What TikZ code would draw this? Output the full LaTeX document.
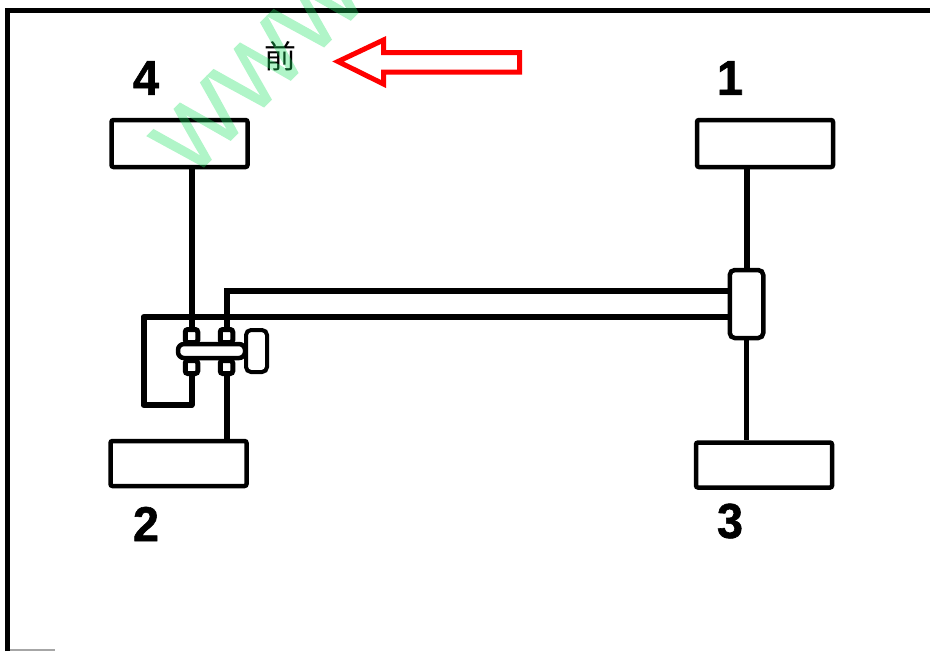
\documentclass[tikz,border=0pt]{standalone}
\usepackage{fontspec}
\setmainfont{Liberation Sans}
\newfontfamily\cjkfont{Noto Sans CJK SC}
\newfontfamily\wheelfont[UprightFont=* Bold, FakeBold=1.2, FakeStretch=.95]{Liberation Sans}
\newfontfamily\markfont[FakeBold=1.5]{Liberation Sans}
\definecolor{markgreen}{RGB}{29,226,98}
\definecolor{arrowred}{RGB}{255,0,0}
\tikzset{
	wheelbox/.style = {draw, line width = .045cm, rounded corners = .2mm, minimum width = 1.36cm, minimum height = .47cm, inner sep = 0pt},
	fitting/.style = {draw, line width = .05cm, rounded corners = .25mm, minimum width = .125cm, minimum height = .13cm, inner sep = 0pt},
	pipe/.style = {line width = .06cm},
	wheelno/.style = {font = \fontsize{14}{17}\selectfont\wheelfont, inner sep = 0pt}
}

\begin{document}
\begin{tikzpicture}
	\useasboundingbox (0,0) rectangle (9.3,6.51);
	\clip (0,0) rectangle (9.3,6.51);
	\draw [line width = .05cm] (.075,0) -- (.075,6.405) -- (9.3,6.405);
	\draw [line width = .02cm, gray!70] (.1,.01) -- (.55,.01);
	\node [wheelbox] (boxfour) at (1.795,5.075) {};
	\node [wheelbox] (boxone) at (7.65,5.075) {};
	\node [wheelbox, minimum height = .45cm] (boxtwo) at (1.785,1.875) {};
	\node [wheelbox, minimum height = .45cm] (boxthree) at (7.64,1.86) {};
	\node [wheelno] (nofour) at (1.46,5.73) {4};
	\node [wheelno] (noone) at (7.30,5.73) {1};
	\node [wheelno] (notwo) at (1.46,1.27) {2};
	\node [wheelno] (nothree) at (7.30,1.30) {3};
	\node [inner sep = 0pt, font = \fontsize{9.1}{11}\selectfont\cjkfont] (front) at (2.80,5.95) {前};
	\draw [arrowred, line width = .05cm, miter limit = 10] (3.38,5.895) -- (3.835,6.11) -- (3.835,5.985) -- (5.195,5.985) -- (5.195,5.79) -- (3.835,5.79) -- (3.835,5.67) -- cycle;
	% brake unit
	\node [draw, line width = .045cm, rounded corners = .5mm, minimum width = .335cm, minimum height = .68cm, inner sep = 0pt] (unit) at (7.465,3.47) {};
	\node [draw, line width = .04cm, rounded corners = .5mm, minimum width = .21cm, minimum height = .42cm, inner sep = 0pt] (actuator) at (2.565,3.0) {};
	\node [fitting] (fitul) at (1.915,3.15) {};
	\node [fitting] (fitur) at (2.265,3.15) {};
	\node [fitting] (fitll) at (1.915,2.84) {};
	\node [fitting] (fitlr) at (2.265,2.84) {};
	\node [draw, line width = .045cm, rounded corners = .6mm, minimum width = .67cm, minimum height = .14cm, inner sep = 0pt] (valvebar) at (2.115,3.0) {};
	\coordinate (upperport) at (7.295,3.60);
	\coordinate (lowerport) at (7.295,3.34);
	\coordinate (returntop) at (1.435,3.34);
	\coordinate (returnbot) at (1.435,2.46);
	\draw [pipe] (boxfour.south -| fitul) -- (fitul.north);
	\draw [pipe] (fitur.north) |- (upperport);
	\draw [pipe, line join = round] (lowerport) -- (returntop) -- (returnbot) -| (fitll.south);
	\draw [pipe] (fitlr.south) -- (fitlr.south |- boxtwo.north);
	\draw [pipe] (boxone.south -| unit.north) -- (unit.north);
	\draw [line width = .05cm] (unit.south) -- (unit.south |- boxthree.north);
	\begin{scope} [transparency group, opacity = .35]
		\node [rotate = 45, text = markgreen, inner sep = 0pt, font = \fontsize{25.6}{30}\selectfont\markfont] (mark) at (2.59,5.83) {WWW};
	\end{scope}
\end{tikzpicture}
\end{document}
